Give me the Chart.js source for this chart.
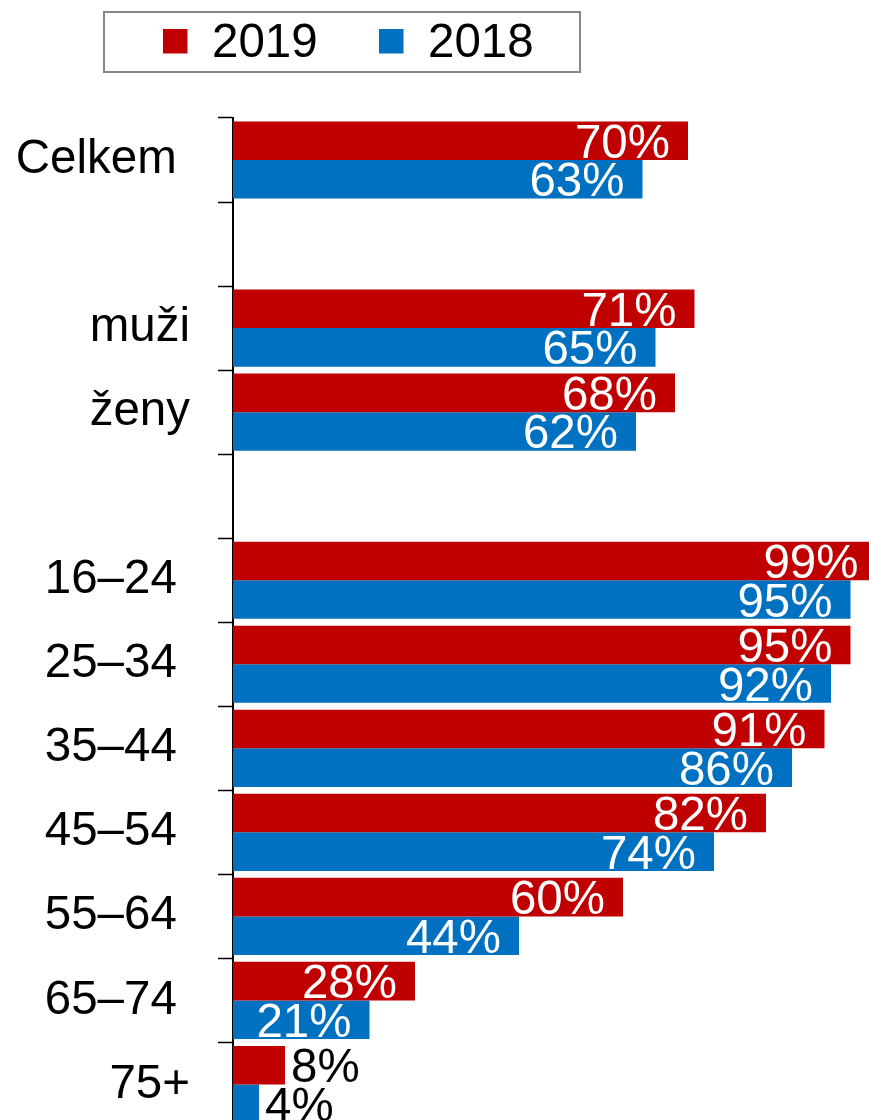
<!DOCTYPE html>
<html><head><meta charset="utf-8">
<script src="https://cdn.jsdelivr.net/npm/chart.js@4.4.1/dist/chart.umd.min.js"></script>
<style>
html,body{margin:0;padding:0;background:#fff;overflow:hidden;width:869px;height:1120px}
#wrap{position:absolute;left:0;top:0;width:900px;height:1183px}
</style>
</head><body><div id="wrap"><canvas id="c" width="900" height="1183"></canvas></div>
<script>
const categories = ['Celkem', '', 'muži', 'ženy', '', '16–24', '25–34', '35–44', '45–54', '55–64', '65–74', '75+'];
const values2019 = [70, null, 71, 68, null, 99, 95, 91, 82, 60, 28, 8];
const values2018 = [63, null, 65, 62, null, 95, 92, 86, 74, 44, 21, 4];
const seriesNames = ['2019', '2018'];
const seriesColors = ['#C00000', '#0070C0'];
// labels drawn without the trailing space Excel kept on the others
const flushLabels = new Set(['muži', 'ženy', '75+']);

const FAMILY = '"Liberation Sans", Arial, sans-serif';
const SIZE = 47.5;
const FONT = SIZE + 'px ' + FAMILY;

const valueLabels = {
  id: 'valueLabels',
  afterDatasetsDraw(chart) {
    const ctx = chart.ctx;
    ctx.save();
    ctx.font = FONT;
    ctx.textBaseline = 'alphabetic';
    chart.data.datasets.forEach((ds, di) => {
      const meta = chart.getDatasetMeta(di);
      meta.data.forEach((bar, i) => {
        const v = ds.data[i];
        if (v == null) return;
        const txt = v + '%';
        const w = ctx.measureText(txt).width;
        const barW = bar.x - bar.base;
        const yb = bar.y + 0.358 * SIZE;
        if (w + 24 <= barW) {
          ctx.fillStyle = '#fff';
          ctx.textAlign = 'right';
          ctx.fillText(txt, bar.x - 18, yb);
        } else {
          ctx.fillStyle = '#000';
          ctx.textAlign = 'left';
          ctx.fillText(txt, bar.x + 6, yb);
        }
      });
    });
    ctx.restore();
  }
};

const boxLegend = {
  id: 'boxLegend',
  afterDraw(chart) {
    const ctx = chart.ctx;
    ctx.save();
    ctx.strokeStyle = '#888888';
    ctx.lineWidth = 2;
    ctx.strokeRect(104, 12, 476, 60);
    const itemX = [163, 379];
    ctx.font = FONT;
    ctx.textAlign = 'left';
    ctx.textBaseline = 'alphabetic';
    chart.data.datasets.forEach((ds, i) => {
      ctx.fillStyle = ds.backgroundColor;
      ctx.fillRect(itemX[i], 29, 24.5, 24.5);
      ctx.fillStyle = '#000';
      ctx.fillText(ds.label, itemX[i] + 49, 57);
    });
    ctx.restore();
  }
};

new Chart(document.getElementById('c'), {
  type: 'bar',
  data: {
    labels: categories,
    datasets: [
      { label: seriesNames[0], data: values2019, backgroundColor: seriesColors[0], categoryPercentage: 0.918, barPercentage: 1 },
      { label: seriesNames[1], data: values2018, backgroundColor: seriesColors[1], categoryPercentage: 0.918, barPercentage: 1 }
    ]
  },
  options: {
    indexAxis: 'y',
    responsive: false,
    animation: false,
    devicePixelRatio: 1,
    layout: { padding: { top: 118, right: 17, bottom: 0, left: 0 } },
    plugins: { legend: { display: false }, tooltip: { enabled: false } },
    scales: {
      x: { display: false, min: 0, max: 100 },
      y: {
        grid: { drawOnChartArea: false, drawTicks: true, tickLength: 15, tickColor: '#000', tickWidth: 1.5, offset: true },
        border: { display: true, color: '#000', width: 2 },
        ticks: {
          color: '#000',
          font: { family: FAMILY, size: SIZE },
          padding: 28,
          autoSkip: false,
          callback: (v, i) => categories[i] + (flushLabels.has(categories[i]) || categories[i] === '' ? '' : ' ')
        },
        afterFit: (s) => { s.width = 233; }
      }
    }
  },
  plugins: [valueLabels, boxLegend]
});
</script>
</body></html>
